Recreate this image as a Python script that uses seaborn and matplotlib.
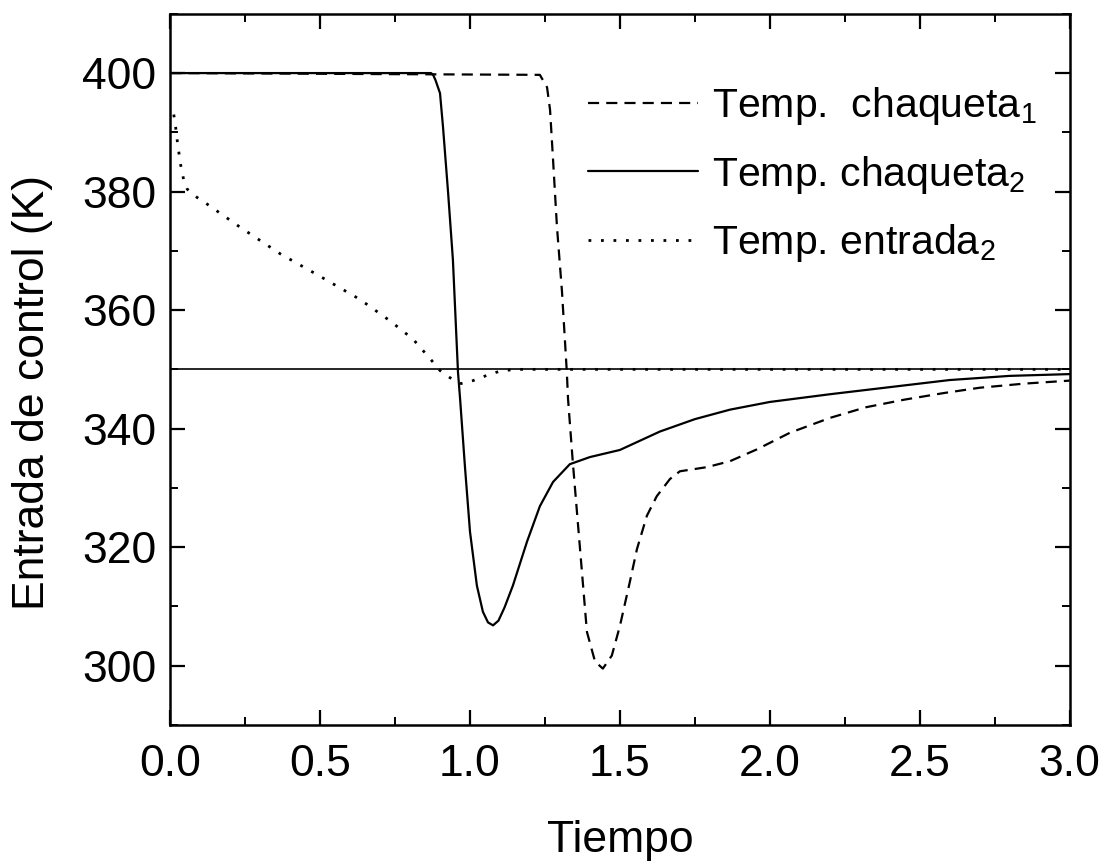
import numpy as np
import pandas as pd
import matplotlib
matplotlib.use("Agg")
import matplotlib.pyplot as plt
import seaborn as sns
from matplotlib.ticker import MultipleLocator

# ---- data ----
t_ch1 = [0, 1.233, 1.257, 1.267, 1.277, 1.29, 1.307, 1.323, 1.327, 1.343, 1.367, 1.39,
         1.417, 1.443, 1.473, 1.5, 1.533, 1.557, 1.59, 1.623, 1.667, 1.7, 1.79, 1.867,
         1.957, 2.067, 2.2, 2.32, 2.45, 2.58, 2.7, 2.85, 3.0]
y_ch1 = [400, 399.7, 397.6, 393.8, 385.4, 374.1, 363, 349.5, 345, 334.3, 319.7, 305.7,
         300.7, 299.5, 301.7, 306.7, 314.1, 319.7, 325.3, 328.6, 331.5, 332.8, 333.5, 334.5,
         336.5, 339.3, 341.8, 343.6, 344.9, 346, 346.9, 347.6, 348.1]

t_ch2 = [0, 0.87, 0.877, 0.885, 0.9, 0.91, 0.927, 0.943, 0.96, 0.967, 0.983, 1.0, 1.023,
         1.043, 1.06, 1.077, 1.095, 1.115, 1.143, 1.19, 1.233, 1.277, 1.333, 1.4, 1.5,
         1.633, 1.75, 1.867, 2.0, 2.2, 2.4, 2.6, 2.8, 3.0]
y_ch2 = [400, 400, 399.7, 398.8, 396.6, 390.9, 379.8, 368.5, 349.5, 345, 333.7, 322.6, 313.5,
         309.1, 307.3, 306.8, 307.6, 309.8, 313.5, 320.9, 326.9, 331, 334, 335.2, 336.4,
         339.5, 341.6, 343.2, 344.5, 345.8, 347, 348.2, 348.9, 349.2]

t_ent2 = [0.012, 0.018, 0.025, 0.035, 0.045, 0.057, 0.09, 0.123, 0.233, 0.367, 0.5, 0.633,
          0.733, 0.81, 0.867, 0.9, 0.933, 0.97, 1.01, 1.057, 1.1, 1.15, 1.3, 3.0]
y_ent2 = [393, 391, 388, 384.5, 382, 380.4, 379, 377.9, 374, 369.5, 365.7, 361.8,
          358.2, 355.1, 351.8, 349.8, 348.6, 347.6, 348.1, 349, 349.7, 350, 350, 350]

t_ref = [0, 3.0]
y_ref = [350, 350]

labels = ["Temp.  chaqueta$_1$", "Temp. chaqueta$_2$", "Temp. entrada$_2$"]
x_ticks = [0.0, 0.5, 1.0, 1.5, 2.0, 2.5, 3.0]
y_ticks = [300, 320, 340, 360, 380, 400]

# ---- style ----
sns.set_style("ticks")
plt.rcParams["font.family"] = ["Liberation Sans", "DejaVu Sans"]
plt.rcParams["mathtext.fontset"] = "custom"
plt.rcParams["mathtext.rm"] = "Liberation Sans"
plt.rcParams["mathtext.it"] = "Liberation Sans:italic"
for k in ["text.color", "axes.labelcolor", "xtick.color", "ytick.color", "axes.edgecolor"]:
    plt.rcParams[k] = "black"

fig = plt.figure(figsize=(11.05, 8.63), dpi=100)
ax = fig.add_axes([0.154, 0.16, 0.814, 0.824])

lw = 1.6
sns.lineplot(x=t_ref, y=y_ref, ax=ax, color="black", lw=1.2, legend=False)
sns.lineplot(x=t_ch1, y=y_ch1, ax=ax, color="black", lw=lw, label=labels[0],
             linestyle=(0, (5, 3.2)))
sns.lineplot(x=t_ch2, y=y_ch2, ax=ax, color="black", lw=lw, label=labels[1],
             linestyle="-")
sns.lineplot(x=t_ent2, y=y_ent2, ax=ax, color="black", lw=2.0, label=labels[2],
             linestyle=(0, (1, 3.5)))

ax.set_xlim(0, 3.0)
ax.set_ylim(290, 410)
ax.set_xticks(x_ticks)
ax.set_xticklabels([f"{v:.1f}" for v in x_ticks])
ax.set_yticks(y_ticks)
ax.xaxis.set_minor_locator(MultipleLocator(0.25))
ax.yaxis.set_minor_locator(MultipleLocator(10))

for s in ax.spines.values():
    s.set_linewidth(1.8)
    s.set_color("black")

ax.tick_params(which="major", direction="in", length=11, width=1.6, top=True, right=True,
               labelsize=32, pad=10, colors="black")
ax.tick_params(axis="x", which="major", pad=14)
ax.tick_params(which="minor", direction="in", length=6, width=1.4, top=True, right=True)

ax.set_xlabel("Tiempo", fontsize=32, labelpad=25)
ax.set_ylabel("Entrada de control (K)", fontsize=32, labelpad=21)
ax.yaxis.label.set_y(0.467)

leg = ax.legend(loc="upper left", bbox_to_anchor=(0.464, 0.90), frameon=False,
                fontsize=29.5, handlelength=2.7, handletextpad=0.35, labelspacing=0.65,
                borderpad=0, borderaxespad=0)
for t in leg.get_texts():
    t.set_color("black")

fig.savefig("out.png", dpi=100, facecolor="white")
